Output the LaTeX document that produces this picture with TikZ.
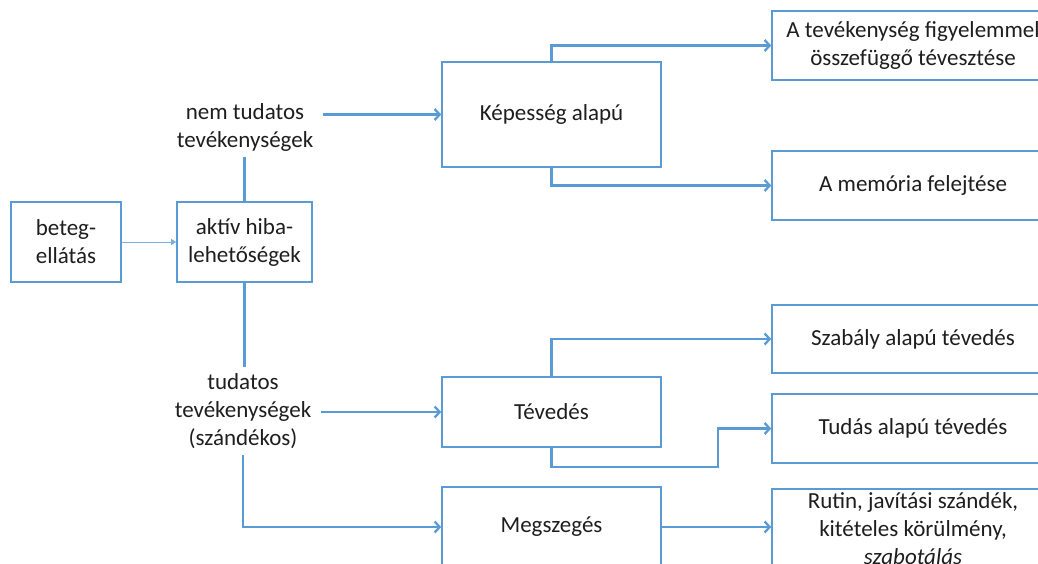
\documentclass[tikz,border=0pt]{standalone}
\usepackage{fontspec}
\setmainfont{Carlito}
\usetikzlibrary{arrows.meta}
\definecolor{linkblue}{RGB}{91,155,213}
\definecolor{thinblue}{RGB}{120,175,225}
\definecolor{txt}{RGB}{30,30,30}
\begin{document}
\begin{tikzpicture}[x=1pt,y=-1pt,
  every node/.style={font=\fontsize{23}{28}\selectfont, text=txt, align=center},
  box/.style={draw=linkblue, line width=1.6pt, fill=white, inner sep=0pt},
  lbl/.style={inner xsep=10pt, inner ysep=6pt},
  arr/.style={draw=linkblue, line width=2.3pt, -{Straight Barb[length=5pt,width=11pt]}},
  link/.style={draw=linkblue, line width=2.3pt},
  thin/.style={draw=thinblue, line width=1pt, -{Triangle[length=5pt,width=6pt]}}]
\useasboundingbox (0,0) rectangle (1038,564);
\clip (0,0) rectangle (1038,564);

% left column
\node[box, minimum width=110pt, minimum height=80pt] (beteg) at (66,242) {beteg-\\ellátás};
\node[box, minimum width=135pt, minimum height=80pt] (aktiv) at (244.5,242) {aktív hiba-\\lehetőségek};
\node[lbl] (nem) at (245,127) {nem tudatos\\tevékenységek};
\node[lbl] (tudl) at (243,411) {tudatos\\tevékenységek\\(szándékos)};

% middle column
\node[box, minimum width=219pt, minimum height=105pt] (kep) at (551.5,114.5) {Képesség alapú};
\node[box, minimum width=219pt, minimum height=70pt] (tev) at (551.5,412) {Tévedés};
\node[box, minimum width=219pt, minimum height=80pt] (meg) at (551.5,527) {Megszegés};

% right column
\node[box, minimum width=282pt, minimum height=69pt] (fig) at (913,45.5) {A tevékenység figyelemmel\\összefüggő tévesztése};
\node[box, minimum width=282pt, minimum height=69pt] (mem) at (913,185.5) {A memória felejtése};
\node[box, minimum width=282pt, minimum height=68pt] (sza) at (913,339) {Szabály alapú tévedés};
\node[box, minimum width=282pt, minimum height=69pt] (tudb) at (913,428.5) {Tudás alapú tévedés};
\node[box, minimum width=282pt, minimum height=80pt] (rut) at (913,529) {Rutin, javítási szándék,\\kitételes körülmény,\\\textit{szabotálás}};

\coordinate (bend) at (718,467);

% connectors
\draw[thin] (beteg.east) -- (aktiv.west);
\draw[link] (aktiv.north) -- (aktiv.north |- nem.south);
\draw[link] (aktiv.south) -- (aktiv.south |- tudl.north);
\draw[arr] (kep.west -| nem.east) -- (kep.west);
\draw[arr] (tev.west -| tudl.east) -- (tev.west);
\draw[arr] (tudl.south) |- (meg.west);
\draw[arr] (kep.north) |- (fig.west);
\draw[arr] (kep.south) |- (mem.west);
\draw[arr] (tev.north) |- (sza.west);
\draw[arr] (tev.south) |- (bend) |- (tudb.west);
\draw[arr] (meg.east) -- (meg.east -| rut.west);
\end{tikzpicture}
\end{document}
